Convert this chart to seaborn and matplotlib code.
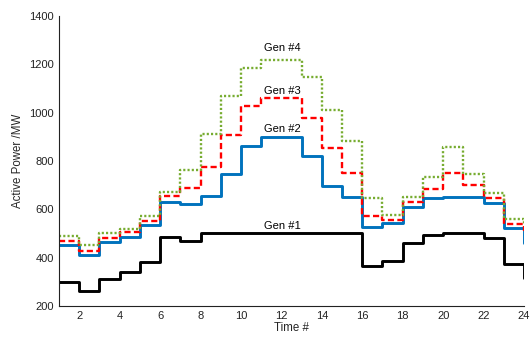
import matplotlib
matplotlib.use("Agg")
import matplotlib.pyplot as plt
import seaborn as sns
import pandas as pd

time = list(range(1, 25))
gen1 = [300, 260, 310, 340, 382, 485, 470, 500, 500, 500, 500, 500,
        500, 500, 500, 365, 385, 462, 495, 500, 500, 480, 373, 315]
gen2 = [451, 411, 465, 487, 535, 630, 624, 654, 748, 864, 900, 900,
        822, 697, 653, 528, 544, 610, 646, 651, 651, 627, 524, 460]
gen3 = [469, 429, 480, 505, 551, 654, 688, 774, 907, 1026, 1059, 1059,
        978, 855, 752, 573, 555, 630, 686, 749, 700, 645, 540, 510]
gen4 = [490, 451, 500, 517, 573, 671, 761, 910, 1067, 1183, 1219, 1219,
        1146, 1013, 882, 645, 576, 653, 734, 857, 745, 667, 559, 540]
labels = ["Gen #1", "Gen #2", "Gen #3", "Gen #4"]
label_y = [531, 934, 1091, 1268]
label_x = 12.05
xticks = list(range(2, 25, 2))
yticks = list(range(200, 1401, 200))

sns.set_style("white")
plt.rcParams['font.family'] = ['Liberation Sans', 'DejaVu Sans']

fig = plt.figure(figsize=(5.31, 3.38), dpi=100)
ax = fig.add_axes([59/531, 1 - 306/338, (524-59)/531, (306-16)/338])

series = [gen1, gen2, gen3, gen4]
colors = ["black", "#0072BD", "#FF0000", "#77AC30"]
widths = [2.1, 2.1, 1.7, 1.7]
dash_styles = [None, None, (0, (2.6, 1.4)), (0, (0.9, 0.9))]
for vals, c, lw, ds in zip(series, colors, widths, dash_styles):
    df = pd.DataFrame({"t": time, "p": vals})
    kw = {} if ds is None else {"linestyle": ds}
    sns.lineplot(data=df, x="t", y="p", ax=ax, color=c,
                 linewidth=lw, drawstyle="steps-post", **kw)

for lab, ly in zip(labels, label_y):
    ax.text(label_x, ly, lab, ha="center", va="center", fontsize=8, color="black")

ax.set_xlim(1, 24)
ax.set_ylim(200, 1400)
ax.set_xticks(xticks)
ax.set_yticks(yticks)
ax.tick_params(direction="in", length=3, labelsize=8, colors="#222222")
ax.set_xlabel("Time #", fontsize=8.3, labelpad=1)
ax.set_ylabel("Active Power /MW", fontsize=8.3)
for s in ["top", "right"]:
    ax.spines[s].set_visible(False)
for s in ["left", "bottom"]:
    ax.spines[s].set_color("#222222")
    ax.spines[s].set_linewidth(0.8)

fig.savefig("out.png", dpi=100)
